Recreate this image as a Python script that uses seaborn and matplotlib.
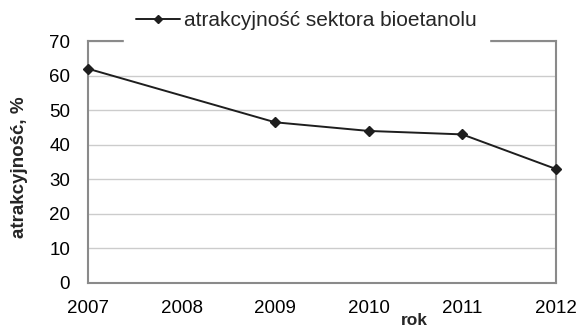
import matplotlib
matplotlib.use("Agg")
import matplotlib.pyplot as plt
import seaborn as sns
import pandas as pd

# dane
lata = [2007, 2009, 2010, 2011, 2012]
atrakcyjnosc = [62, 46.5, 44, 43, 33]
etykiety_x = [2007, 2008, 2009, 2010, 2011, 2012]
seria = "atrakcyjność sektora bioetanolu"

sns.set_style("white")
plt.rcParams['font.family'] = ['Liberation Sans', 'DejaVu Sans']

df = pd.DataFrame({"rok": lata, "wartosc": atrakcyjnosc})

fig = plt.figure(figsize=(5.76, 3.29), dpi=100)
ax = fig.add_axes([0.153, 0.140, 0.812, 0.735])

sns.lineplot(data=df, x="rok", y="wartosc", marker="D", markersize=5.5,
             color="#1e1e1e", linewidth=1.4, markeredgecolor="#1e1e1e",
             markeredgewidth=1, label=seria, ax=ax, clip_on=False, zorder=4)

ax.set_xlim(2007, 2012)
ax.set_ylim(0, 70)
ax.set_xticks(etykiety_x)
ax.set_yticks(range(0, 71, 10))
ax.yaxis.grid(True, color="#cccccc", linewidth=1)
for s in ax.spines.values():
    s.set_color("#8a8a8a")
    s.set_linewidth(1.5)
    s.set_visible(True)
ax.tick_params(axis="both", labelsize=13.5, colors="#8a8a8a", labelcolor="black",
               length=5, width=1.2, direction="out")
ax.tick_params(axis="x", pad=7)
ax.tick_params(axis="y", pad=8)

ax.set_xlabel("rok", fontsize=12.5, fontweight="bold")
ax.xaxis.set_label_coords(0.697, -0.125)
ax.set_ylabel("atrakcyjność, %", fontsize=13.5, fontweight="bold")
ax.yaxis.set_label_coords(-0.128, 0.48)

leg = ax.legend(loc="center", bbox_to_anchor=(0.532, 0.937), bbox_transform=fig.transFigure,
                fontsize=15, frameon=True, facecolor="white", edgecolor="white",
                framealpha=1, handlelength=2.1, handletextpad=0.2, borderpad=0.6,
                fancybox=False)
leg.set_zorder(5)
leg.legend_handles[0].set_markersize(4)

fig.savefig("out.png", dpi=100)
